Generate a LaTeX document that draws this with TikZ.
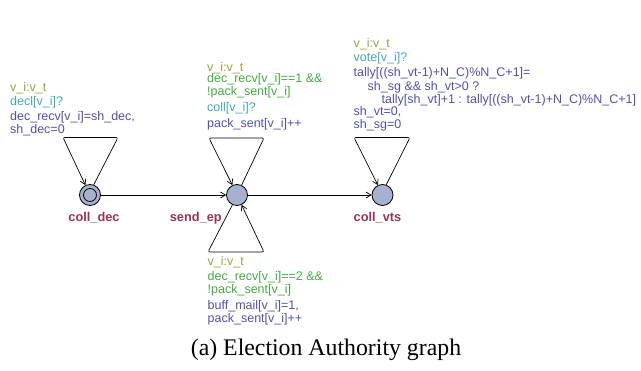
\documentclass[tikz,border=0pt]{standalone}
\usepackage{fontspec}
\setmainfont{Liberation Serif}
\newfontfamily\uifont{Liberation Sans}
\usetikzlibrary{arrows.meta}
\definecolor{selc}{RGB}{160,160,64}
\definecolor{guardc}{RGB}{68,170,68}
\definecolor{syncc}{RGB}{68,170,170}
\definecolor{updc}{RGB}{80,80,176}
\definecolor{namec}{RGB}{153,51,85}
\definecolor{locfill}{RGB}{168,176,208}
\tikzset{
  loc/.style={circle,draw=black,fill=locfill,line width=0.8pt,minimum size=21pt,inner sep=0pt},
  locname/.style={text=namec,font=\uifont\bfseries\fontsize{12.8}{13}\selectfont,inner sep=0pt},
  lbl/.style={font=\uifont\fontsize{12.5}{13}\selectfont,anchor=west,inner sep=0pt,align=left},
  edge/.style={draw=black,line width=0.7pt},
  arr/.style={edge,-{Straight Barb[length=5pt,width=6pt]}},
}
\begin{document}
\begin{tikzpicture}[x=1pt,y=-1pt]
\useasboundingbox (0,0) rectangle (641,371);
% locations
\node[loc] (colldec) at (90,195) {};
\draw[line width=0.8pt] (colldec) circle (6.5pt);
\node[loc] (sendep) at (237,195) {};
\node[loc] (collvts) at (382.5,195) {};
\node[locname] (ncolldec) at (94,218) {coll\_dec};
\node[locname,anchor=east] (nsendep) at (222,218) {send\_ep};
\node[locname] (ncollvts) at (377.5,218) {coll\_vts};
% nails
\coordinate (a1) at (118,137.5);
\coordinate (a2) at (63,137.5);
\coordinate (b1) at (264,138);
\coordinate (b2) at (209,138);
\coordinate (c1) at (208,252);
\coordinate (c2) at (264,252);
\coordinate (d1) at (410,137.5);
\coordinate (d2) at (354,137.5);
% edges
\draw[arr] (colldec) -- (sendep);
\draw[arr] (sendep) -- (collvts);
\draw[arr,rounded corners=2pt] (colldec.70) -- (a1) -- (a2) -- (colldec.115);
\draw[arr,rounded corners=2pt] (sendep.65) -- (b1) -- (b2) -- (sendep.115);
\draw[arr,rounded corners=2pt] (sendep.-115) -- (c1) -- (c2) -- (sendep.-65);
\draw[arr,rounded corners=2pt] (collvts.70) -- (d1) -- (d2) -- (collvts.115);
% labels coll_dec loop
\node[lbl,text=selc] (l1a) at (10,88.5) {v\_i:v\_t};
\node[lbl,text=syncc] (l1b) at (10,102) {decl[v\_i]?};
\node[lbl,text=updc,anchor=north west] (l1c) at (10,111) {dec\_recv[v\_i]=sh\_dec,\\sh\_dec=0};
% labels send_ep top
\node[lbl,text=selc] (l2a) at (207,68) {v\_i:v\_t};
\node[lbl,text=guardc,anchor=north west] (l2b) at (207,73.5) {dec\_recv[v\_i]==1 \&\&\\!pack\_sent[v\_i]};
\node[lbl,text=syncc] (l2c) at (207,108.5) {coll[v\_i]?};
\node[lbl,text=updc] (l2d) at (207,124.5) {pack\_sent[v\_i]++};
% labels send_ep bottom
\node[lbl,text=selc] (l3a) at (207.5,262) {v\_i:v\_t};
\node[lbl,text=guardc,anchor=north west] (l3b) at (207.5,271) {dec\_recv[v\_i]==2 \&\&\\!pack\_sent[v\_i]};
\node[lbl,text=updc,anchor=north west] (l3c) at (207.5,300) {buff\_mail[v\_i]=1,\\pack\_sent[v\_i]++};
% labels coll_vts
\node[lbl,text=selc] (l4a) at (353.5,44) {v\_i:v\_t};
\node[lbl,text=syncc] (l4b) at (353.5,58.5) {vote[v\_i]?};
\node[lbl,text=updc] (l4c) at (353.5,73.5) {tally[((sh\_vt-1)+N\_C)\%N\_C+1]=};
\node[lbl,text=updc] (l4d) at (367.5,87) {sh\_sg \&\& sh\_vt>0 ?};
\node[lbl,text=updc] (l4e) at (381.5,100) {tally[sh\_vt]+1 : tally[((sh\_vt-1)+N\_C)\%N\_C+1]};
\node[lbl,text=updc] (l4f) at (353.5,112) {sh\_vt=0,};
\node[lbl,text=updc] (l4g) at (353.5,125) {sh\_sg=0};
% caption
\node[font=\fontsize{23.8}{26}\selectfont,inner sep=0pt] (cap) at (326,350) {(a) Election Authority graph};
\end{tikzpicture}
\end{document}
